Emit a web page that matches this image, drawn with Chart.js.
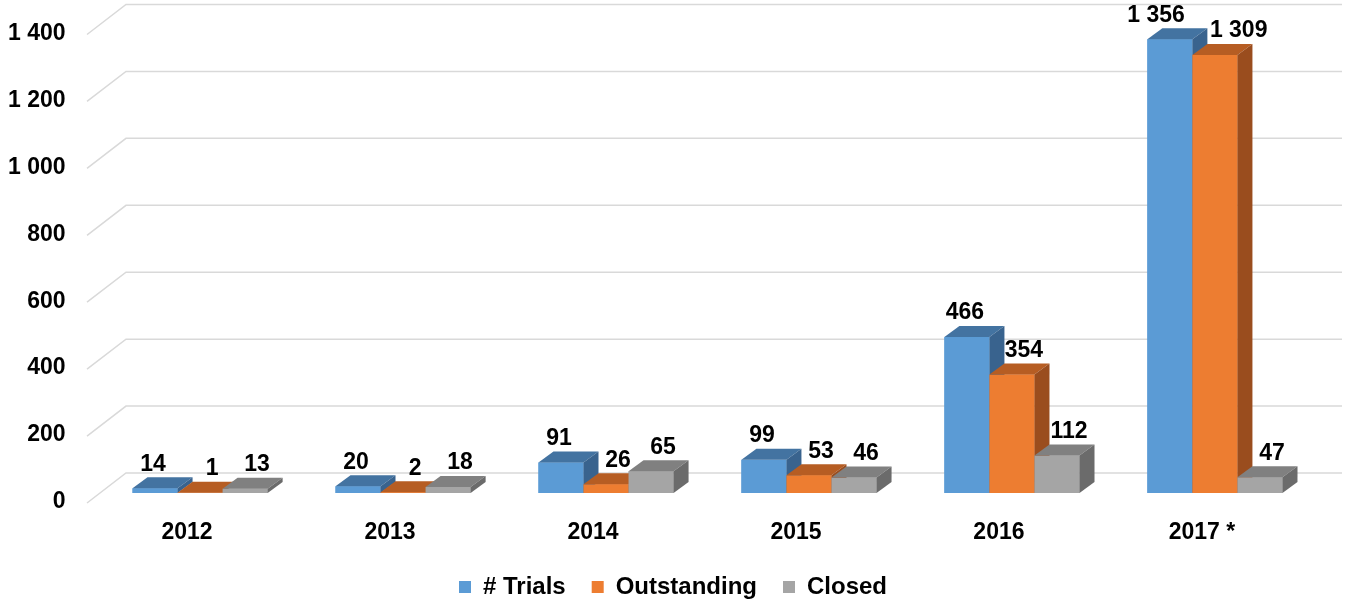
<!DOCTYPE html>
<html>
<head>
<meta charset="utf-8">
<script src="https://cdn.jsdelivr.net/npm/chart.js@4.4.1/dist/chart.umd.min.js"></script>
<style>
  html, body { margin: 0; padding: 0; overflow: hidden; background: #fff; }
  #wrap { position: relative; width: 1346px; height: 609px; }
</style>
</head>
<body>
<div id="wrap"><canvas id="myChart"></canvas></div>
<script>
// data
const years = ["2012", "2013", "2014", "2015", "2016", "2017 *"];
const trials = [14, 20, 91, 99, 466, 1356];
const outstanding = [1, 2, 26, 53, 354, 1309];
const closed = [13, 18, 65, 46, 112, 47];
const yTicks = [0, 200, 400, 600, 800, 1000, 1200, 1400];

const FONT = "'Liberation Sans', Arial, sans-serif";

// front, top, side shades for each series
const shades = [
  ["#5B9BD5", "#4373A1", "#39638E"],
  ["#ED7D31", "#B65D23", "#9A4D1E"],
  ["#A5A5A5", "#808080", "#6B6B6B"],
];

const DX = 15; // bar depth
const DY = 11;

function fmt(v) {
  return String(v).replace(/\B(?=(\d{3})+(?!\d))/g, " ");
}

// back wall gridlines with the little diagonal on the left
const wallPlugin = {
  id: "wall",
  beforeDatasetsDraw(chart) {
    const ctx = chart.ctx;
    const y = chart.scales.y;
    ctx.save();
    ctx.strokeStyle = "#D9D9D9";
    ctx.lineWidth = 1.5;
    yTicks.forEach((v) => {
      const back = y.getPixelForValue(v) - 20;
      ctx.beginPath();
      ctx.moveTo(87, back + 30);
      ctx.lineTo(126, back);
      ctx.lineTo(1342, back);
      ctx.stroke();
    });
    ctx.restore();
  },
};

// fake 3d: redraw each bar with top and side faces, then the value labels
const bar3dPlugin = {
  id: "bar3d",
  afterDatasetsDraw(chart) {
    const ctx = chart.ctx;
    const metas = chart.data.datasets.map((d, i) => chart.getDatasetMeta(i));
    ctx.save();
    years.forEach((yr, i) => {
      metas.forEach((meta, d) => {
        const bar = meta.data[i];
        const l = bar.x - bar.width / 2;
        const r = bar.x + bar.width / 2;
        const t = bar.y;
        const b = bar.base;
        const c = shades[d];
        ctx.fillStyle = c[0];
        ctx.fillRect(l, t, r - l, b - t);
        ctx.fillStyle = c[1];
        ctx.beginPath();
        ctx.moveTo(l, t);
        ctx.lineTo(r, t);
        ctx.lineTo(r + DX, t - DY);
        ctx.lineTo(l + DX, t - DY);
        ctx.closePath();
        ctx.fill();
        ctx.fillStyle = c[2];
        ctx.beginPath();
        ctx.moveTo(r, t);
        ctx.lineTo(r + DX, t - DY);
        ctx.lineTo(r + DX, b - DY);
        ctx.lineTo(r, b);
        ctx.closePath();
        ctx.fill();
      });
    });

    // labels
    ctx.font = "bold 23px " + FONT;
    ctx.fillStyle = "#000";
    ctx.textAlign = "center";
    ctx.textBaseline = "middle";
    years.forEach((yr, i) => {
      const items = metas.map((meta, d) => {
        const bar = meta.data[i];
        const text = fmt(chart.data.datasets[d].data[i]);
        return {
          text,
          x: bar.x + (d === 0 ? -2 : 12),
          y: bar.y - 24,
          w: ctx.measureText(text).width,
        };
      });
      for (let k = 1; k < items.length; k++) {
        const a = items[k - 1];
        const b = items[k];
        const need = a.w / 2 + b.w / 2 + 25;
        const have = b.x - a.x;
        if (have < need && Math.abs(a.y - b.y) < 30 && a.w > 40) {
          a.x -= (need - have) / 2;
          b.x += (need - have) / 2;
        }
      }
      items.forEach((it) => ctx.fillText(it.text, it.x, it.y));
    });
    ctx.restore();
  },
};

const data = {
  labels: years,
  datasets: [
    { label: "# Trials", data: trials, backgroundColor: shades[0][0] },
    { label: "Outstanding", data: outstanding, backgroundColor: shades[1][0] },
    { label: "Closed", data: closed, backgroundColor: shades[2][0] },
  ],
};

const config = {
  type: "bar",
  data,
  plugins: [wallPlugin, bar3dPlugin],
  options: {
    responsive: true,
    maintainAspectRatio: false,
    animation: false,
    layout: { padding: { left: 0, right: 0, top: 24.5, bottom: 0 } },
    datasets: {
      bar: { categoryPercentage: 0.6657, barPercentage: 1.0 },
    },
    plugins: {
      legend: {
        position: "bottom",
        labels: {
          boxWidth: 12,
          boxHeight: 12,
          padding: 26,
          color: "#000",
          font: { family: FONT, size: 24, weight: "bold" },
        },
      },
      tooltip: { enabled: false },
    },
    scales: {
      x: {
        grid: { display: false, drawTicks: false },
        border: { display: false },
        ticks: {
          color: "#000",
          padding: 26,
          labelOffset: -13,
          font: { family: FONT, size: 23, weight: "bold" },
        },
        afterFit(scale) {
          scale.height = 56;
          scale.paddingLeft = 0;
          scale.paddingRight = 0;
        },
      },
      y: {
        min: 0,
        max: 1400,
        grid: { display: false, drawTicks: false },
        border: { display: false },
        ticks: {
          stepSize: 200,
          color: "#000",
          padding: 33,
          labelOffset: 9,
          font: { family: FONT, size: 23, weight: "bold" },
          callback: (v) => fmt(v),
        },
        afterFit(scale) {
          scale.width = 98.6;
          scale.paddingTop = 0;
          scale.paddingBottom = 0;
        },
      },
      // empty right-hand scale, only to reserve the space right of the bars
      yRight: {
        position: "right",
        grid: { display: false, drawTicks: false },
        border: { display: false },
        ticks: { display: false },
        afterFit(scale) {
          scale.width = 29.6;
          scale.paddingTop = 0;
          scale.paddingBottom = 0;
        },
      },
    },
  },
};

const trialsChart = new Chart(document.getElementById("myChart"), config);
</script>
</body>
</html>
